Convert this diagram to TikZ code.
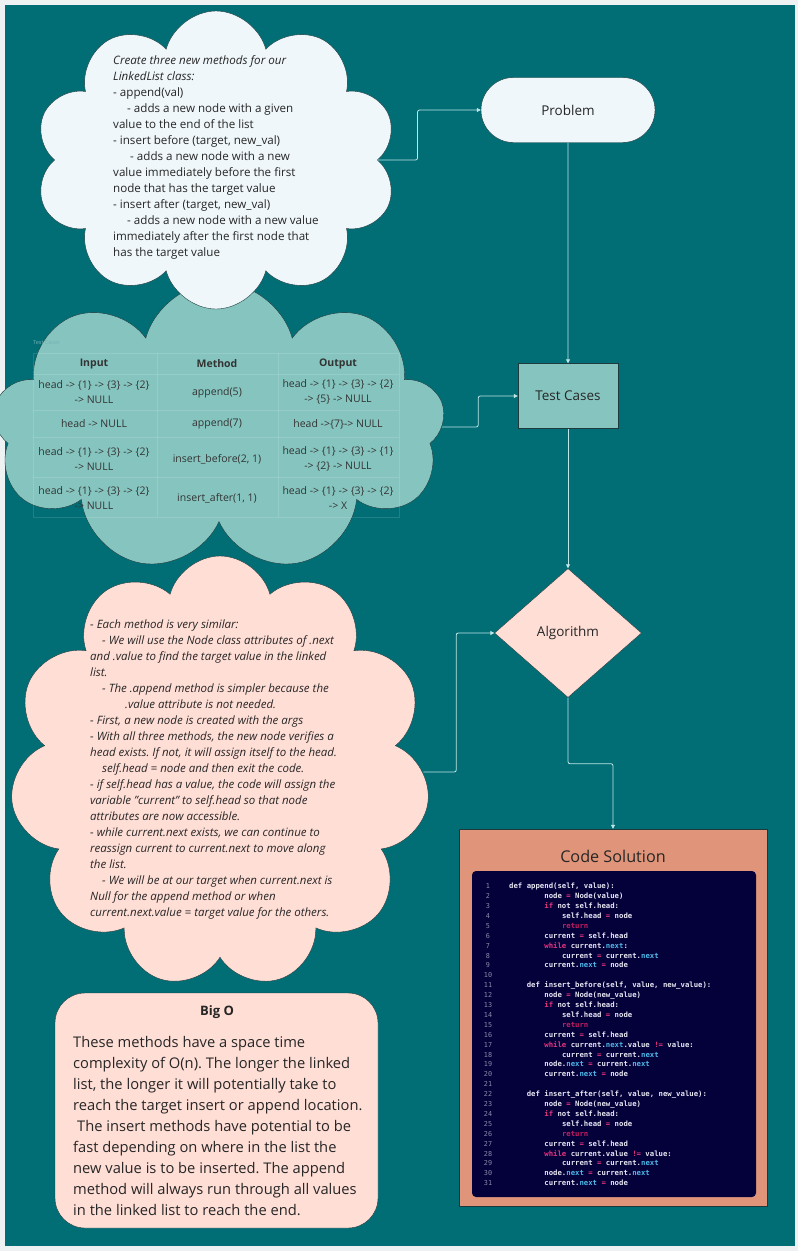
\documentclass[tikz,border=0pt]{standalone}
\usepackage{fontspec}
\setmainfont{Open Sans}
\setmonofont{DejaVu Sans Mono}
\usetikzlibrary{shapes.symbols,shapes.geometric,shapes.misc,arrows.meta}
\frenchspacing

\definecolor{pagegray}{HTML}{EEF2F3}
\definecolor{boardteal}{HTML}{016E75}
\definecolor{problemfill}{HTML}{EFF7FA}
\definecolor{casefill}{HTML}{86C5BF}
\definecolor{algofill}{HTML}{FFDED6}
\definecolor{codefill}{HTML}{E0957A}
\definecolor{codepanel}{HTML}{04003A}
\definecolor{flowline}{HTML}{BFE7E8}
\definecolor{edgegray}{HTML}{1F3A3D}
\definecolor{codetext}{HTML}{E6E6F2}
\definecolor{codekey}{HTML}{E8337F}
\definecolor{codereturn}{HTML}{C21E62}
\definecolor{codeattr}{HTML}{4FB8E8}
\definecolor{codenum}{HTML}{8A8AA8}

\tikzset{
  cloudbox/.style={cloud, cloud puffs=10, cloud ignores aspect, draw=edgegray, inner sep=0pt},
  flowbox/.style={draw=edgegray, inner sep=0pt, text=black!85, font=\fontsize{13.5}{16}\selectfont},
  flow/.style={draw=flowline, line width=0.8pt, rounded corners=2pt, -{Triangle[length=4pt,width=4pt]}},
  notetext/.style={anchor=north west, align=left, inner sep=0pt, text=black!85},
  cell/.style={align=center, inner sep=0pt, text=black!80, font=\fontsize{10.5}{15}\selectfont},
  tablegrid/.style={draw=white, draw opacity=0.13, line width=0.6pt},
  codenumber/.style={anchor=base, inner sep=0pt, text=codenum, font=\ttfamily\fontsize{6.8}{8}\selectfont},
  codeline/.style={anchor=base west, inner sep=0pt, text=codetext, font=\ttfamily\bfseries\fontsize{7.3}{8}\selectfont},
}

\newcommand*{\CKey}[1]{\textcolor{codekey}{#1}}
\newcommand*{\CRet}[1]{\textcolor{codereturn}{#1}}
\newcommand*{\CAttr}[1]{\textcolor{codeattr}{#1}}

\newcommand*{\TableCells}[1]{% #1 = list of x/y/text
  \foreach \x/\y/\ct in {#1} {
    \node [cell] at (\x,\y) {\ct};
    }%
}
\newcommand*{\CodeLines}[1]{% #1 = list of line/indent/text
  \foreach \cl/\ci/\ct in {#1} {
    \node [codenumber] at (488,{888.7+(\cl-1)*9.9}) {\cl};
    \node [codeline] at ({509+\ci*4.4},{888.7+(\cl-1)*9.9}) {\ct};
    }%
}

\begin{document}
\begin{tikzpicture}[x=1pt,y=-1pt]
  \useasboundingbox (0,0) rectangle (798,1251);
  \fill[pagegray] (0,0) rectangle (798,1251);
  \fill[boardteal] (5,5) rectangle (795,1246);

  % clouds on the left
  \node[cloudbox, cloud puffs=9, fill=casefill, minimum width=452, minimum height=290] (casecloud) at (219,427) {};
  \node[cloudbox, fill=problemfill, minimum width=362, minimum height=298] (problemcloud) at (216,160) {};
  \node[cloudbox, cloud puffs=11, fill=algofill, minimum width=420, minimum height=432] (algocloud) at (220,772) {};

  \node[notetext, font=\fontsize{11.6}{16}\selectfont] (problemtext) at (113,55) {%
    \textit{Create three new methods for our}\\
    \textit{LinkedList class:}\\
    - append(val)\\
    \hspace*{14pt}- adds a new node with a given\\
    value to the end of the list\\
    - insert before (target, new\_val)\\
    \hspace*{17pt}- adds a new node with a new\\
    value immediately before the first\\
    node that has the target value\\
    - insert after (target, new\_val)\\
    \hspace*{14pt}- adds a new node with a new value\\
    immediately after the first node that\\
    has the target value};

  % test case table
  \node[anchor=base west, inner sep=0pt, text=white!45!boardteal, font=\fontsize{5.5}{6}\selectfont] (tablelabel) at (33,344) {Test Cases};
  \draw[tablegrid] (33,353) rectangle (399,517);
  \foreach \y in {374,410,437,477} \draw[tablegrid] (33,\y) -- (399,\y);
  \foreach \x in {157,278} \draw[tablegrid] (\x,353) -- (\x,517);
  \TableCells{94/364/\textbf{Input}, 217/364/\textbf{Method}, 338/364/\textbf{Output},
    94/392/{head -> \{1\} -> \{3\} -> \{2\}\\-> NULL}, 217/393/append(5),
    338/392/{head -> \{1\} -> \{3\} -> \{2\}\\-> \{5\} -> NULL},
    94/424/head -> NULL, 217/424/append(7), 338/424/head ->\{7\}-> NULL,
    94/459/{head -> \{1\} -> \{3\} -> \{2\}\\-> NULL}, 217/459/{insert\_before(2, 1)},
    338/459/{head -> \{1\} -> \{3\} -> \{1\}\\-> \{2\} -> NULL},
    94/498/{head -> \{1\} -> \{3\} -> \{2\}\\-> NULL}, 217/498/{insert\_after(1, 1)},
    338/498/{head -> \{1\} -> \{3\} -> \{2\}\\-> X}}

  \node[notetext, font=\itshape\fontsize{11.5}{16}\selectfont] (algotext) at (90,620) {%
    - Each method is very similar:\\
    \hspace*{12pt}- We will use the Node class attributes of .next\\
    and .value to find the target value in the linked\\
    list.\\
    \hspace*{12pt}- The .append method is simpler because the\\
    \hspace*{35pt}.value attribute is not needed.\\
    - First, a new node is created with the args\\
    - With all three methods, the new node verifies a\\
    head exists. If not, it will assign itself to the head.\\
    \hspace*{12pt}self.head = node and then exit the code.\\
    - if self.head has a value, the code will assign the\\
    variable "current" to self.head so that node\\
    attributes are now accessible.\\
    - while current.next exists, we can continue to\\
    reassign current to current.next to move along\\
    the list.\\
    \hspace*{12pt}- We will be at our target when current.next is\\
    Null for the append method or when\\
    current.next.value = target value for the others.};

  % big o note
  \node[draw=edgegray, fill=algofill, rounded corners=30pt, minimum width=323, minimum height=235] (bigo) at (216.5,1110.5) {};
  \node[inner sep=0pt, text=black!85, font=\bfseries\fontsize{13}{16}\selectfont] (bigotitle) at (217,1012) {Big O};
  \node[notetext, font=\fontsize{14.7}{21}\selectfont] (bigotext) at (73,1036) {%
    These methods have a space time\\
    complexity of O(n). The longer the linked\\
    list, the longer it will potentially take to\\
    reach the target insert or append location.\\
    \hspace*{4pt}The insert methods have potential to be\\
    fast depending on where in the list the\\
    new value is to be inserted. The append\\
    method will always run through all values\\
    in the linked list to reach the end.};

  % flow on the right
  \node[flowbox, rounded rectangle, fill=problemfill, minimum width=174, minimum height=65] (problem) at (568,110) {Problem};
  \node[flowbox, rectangle, fill=casefill, minimum width=100, minimum height=65] (testcases) at (568,396) {Test Cases};
  \node[flowbox, diamond, fill=algofill, minimum width=147, minimum height=129] (algorithm) at (568,633) {Algorithm};
  \node[draw=edgegray, fill=codefill, minimum width=308, minimum height=377] (codebox) at (613,1017.5) {};
  \node[inner sep=0pt, text=black!85, font=\fontsize{16.2}{18}\selectfont] (codetitle) at (613,856) {Code Solution};
  \node[fill=codepanel, rounded corners=4pt, minimum width=284, minimum height=326] (codepanel) at (614,1034) {};

  \CodeLines{1/0/{def append(self, value):},
    2/8/{node \CKey{=} Node(value)},
    3/8/{\CKey{if} not self.head:},
    4/12/{self.head \CKey{=} node},
    5/12/{\CRet{return}},
    6/8/{current \CKey{=} self.head},
    7/8/{\CKey{while} current.\CAttr{next}:},
    8/12/{current \CKey{=} current.\CAttr{next}},
    9/8/{current.\CAttr{next} \CKey{=} node},
    10/0/{},
    11/4/{def insert\_before(self, value, new\_value):},
    12/8/{node \CKey{=} Node(new\_value)},
    13/8/{\CKey{if} not self.head:},
    14/12/{self.head \CKey{=} node},
    15/12/{\CRet{return}},
    16/8/{current \CKey{=} self.head},
    17/8/{\CKey{while} current.\CAttr{next}.value \CKey{!=} value:},
    18/12/{current \CKey{=} current.\CAttr{next}},
    19/8/{node.\CAttr{next} \CKey{=} current.\CAttr{next}},
    20/8/{current.\CAttr{next} \CKey{=} node},
    21/0/{},
    22/4/{def insert\_after(self, value, new\_value):},
    23/8/{node \CKey{=} Node(new\_value)},
    24/8/{\CKey{if} not self.head:},
    25/12/{self.head \CKey{=} node},
    26/12/{\CRet{return}},
    27/8/{current \CKey{=} self.head},
    28/8/{\CKey{while} current.value \CKey{!=} value:},
    29/12/{current \CKey{=} current.\CAttr{next}},
    30/8/{node.\CAttr{next} \CKey{=} current.\CAttr{next}},
    31/8/{current.\CAttr{next} \CKey{=} node}}

  % connectors
  \draw[flow] (problemcloud.east) -- ++(40,0) |- (problem.west);
  \draw[flow] (problem) -- (testcases);
  \draw[flow] (casecloud.east) -- ++(36,0) |- (testcases.west);
  \draw[flow] (testcases) -- (algorithm);
  \draw[flow] (algocloud.east) -- ++(33,0) |- (algorithm.west);
  \draw[flow] (algorithm.south) -- ++(0,66) -| (codebox.north);
\end{tikzpicture}
\end{document}
